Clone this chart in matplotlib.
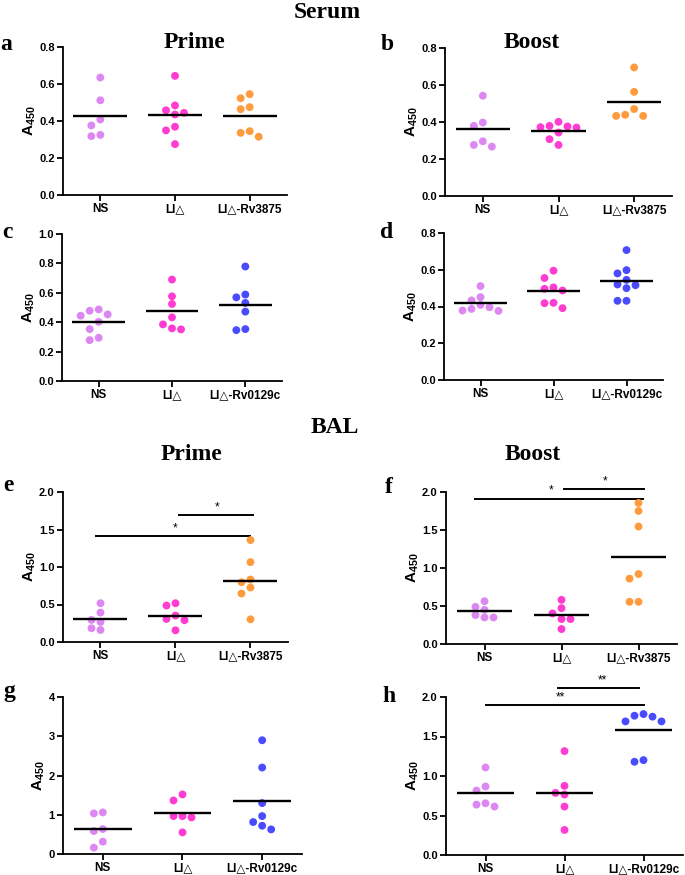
import numpy as np
import matplotlib
matplotlib.use("Agg")
import matplotlib.pyplot as plt
from matplotlib.ticker import FormatStrFormatter

plt.rcParams['font.family'] = ['Liberation Sans', 'DejaVu Sans']
plt.rcParams['font.weight'] = 'bold'
plt.rcParams['mathtext.fontset'] = 'custom'
plt.rcParams['mathtext.bf'] = 'Liberation Sans:bold'
plt.rcParams['mathtext.rm'] = 'Liberation Sans:bold'

# group names
groups_3875 = ['NS', 'LI\u25b3', 'LI\u25b3-Rv3875']
groups_0129 = ['NS', 'LI\u25b3', 'LI\u25b3-Rv0129c']

# serum, prime (a) and boost (b), Rv3875
a_ns = [0.635, 0.512, 0.408, 0.376, 0.318, 0.325]
a_li = [0.644, 0.458, 0.435, 0.444, 0.484, 0.369, 0.349, 0.275]
a_rv = [0.545, 0.523, 0.475, 0.464, 0.345, 0.336, 0.315]
b_ns = [0.542, 0.397, 0.379, 0.296, 0.267, 0.276]
b_li = [0.401, 0.376, 0.370, 0.372, 0.379, 0.343, 0.307, 0.276]
b_rv = [0.695, 0.563, 0.470, 0.439, 0.433, 0.433]

# serum, Rv0129c (c prime, d boost)
c_ns = [0.487, 0.478, 0.453, 0.444, 0.403, 0.353, 0.294, 0.278]
c_li = [0.690, 0.576, 0.524, 0.433, 0.385, 0.351, 0.358]
c_rv = [0.779, 0.588, 0.569, 0.531, 0.472, 0.346, 0.353]
d_ns = [0.511, 0.451, 0.433, 0.409, 0.387, 0.376, 0.378, 0.396]
d_li = [0.595, 0.555, 0.496, 0.487, 0.504, 0.420, 0.418, 0.391]
d_rv = [0.707, 0.598, 0.580, 0.545, 0.516, 0.500, 0.520, 0.431, 0.431]

# BAL
e_ns = [0.517, 0.392, 0.267, 0.294, 0.160, 0.183]
e_li = [0.517, 0.486, 0.352, 0.307, 0.290, 0.156]
e_rv = [1.359, 1.065, 0.833, 0.797, 0.726, 0.646, 0.303]
f_ns = [0.563, 0.489, 0.450, 0.380, 0.349, 0.349]
f_li = [0.581, 0.472, 0.402, 0.328, 0.328, 0.197]
f_rv = [1.856, 1.751, 1.546, 0.921, 0.860, 0.555, 0.555]
g_ns = [1.059, 1.034, 0.636, 0.585, 0.314, 0.161]
g_li = [1.517, 1.364, 0.966, 0.932, 0.966, 0.551]
g_rv = [2.898, 2.203, 1.297, 0.966, 0.814, 0.720, 0.627]
h_ns = [1.108, 0.867, 0.816, 0.655, 0.613, 0.638]
h_li = [1.315, 0.875, 0.765, 0.786, 0.613, 0.317]
h_rv = [1.763, 1.691, 1.691, 1.751, 1.784, 1.180, 1.201]

# significance bars: (x from, x to, height, stars, star x)
e_sig = [(-0.06, 2.0, 1.408, '*', 1.0), (1.05, 2.04, 1.688, '*', 1.55)]
f_sig = [(-0.12, 2.06, 1.913, '*', 0.87), (1.03, 2.07, 2.04, '*', 1.57)]
h_sig = [(0.0, 2.0, 1.894, '**', 0.95), (0.92, 1.94, 2.114, '**', 1.48)]

c_ns_col = '#DD88F2'
c_li_col = '#FF3CD2'
c_3875_col = '#FF9B3C'
c_0129_col = '#4A4AFF'

W, H = 685, 875
fig = plt.figure(figsize=(6.85, 8.75), dpi=100, facecolor='w')


def swarm(vals, center, px_x, px_y, step=9.0, thr=7.5):
    order = np.argsort(vals)[::-1]
    xs = np.zeros(len(vals))
    placed = []
    cand = [0]
    for k in range(1, 8):
        cand += [-k, k]
    for i in order:
        for k in cand:
            ok = True
            for (kk, v) in placed:
                if kk == k and abs(v - vals[i]) * px_y < thr:
                    ok = False
                    break
            if ok:
                placed.append((k, vals[i]))
                xs[i] = center + k * step / px_x
                break
    return xs


def panel(box, data, names, cols, ytop, ystep, fmt, label, lab_xy, sig=None):
    l, t, r, b = box
    ax = fig.add_axes([l / W, 1 - b / H, (r - l) / W, (b - t) / H])
    ax.set_xlim(-0.5, 2.5)
    ax.set_ylim(0, ytop)
    px_x = (r - l) / 3.0
    px_y = (b - t) / ytop
    for i, (vals, col) in enumerate(zip(data, cols)):
        vals = np.array(vals)
        xs = swarm(vals, i, px_x, px_y)
        ax.scatter(xs, vals, s=32, color=col, edgecolors='none', zorder=3, clip_on=False)
        ax.hlines(np.mean(vals), i - 0.36, i + 0.36, color='k', lw=1.7, zorder=4)
    if sig:
        for x0, x1, y, st, sx in sig:
            ax.plot([x0, x1], [y, y], color='k', lw=1.4, clip_on=False)
            ax.text(sx, y + ytop * 0.012, st, ha='center', va='bottom', fontsize=8.5,
                    fontweight='normal')
    ax.set_xticks(range(3))
    ax.set_xticklabels(names, fontsize=8.5, fontweight='bold')
    ax.set_yticks(np.arange(0, ytop + 1e-9, ystep))
    ax.yaxis.set_major_formatter(FormatStrFormatter(fmt))
    for tl in ax.get_yticklabels():
        tl.set_fontsize(8)
        tl.set_fontweight('bold')
    ax.spines['top'].set_visible(False)
    ax.spines['right'].set_visible(False)
    ax.spines['left'].set_linewidth(1.3)
    ax.spines['bottom'].set_linewidth(1.3)
    ax.tick_params(direction='out', length=4, width=1.3, pad=2)
    ax.set_ylabel(r'$\mathbf{A_{450}}$', fontsize=11, labelpad=1)
    fig.text(lab_xy[0] / W, 1 - lab_xy[1] / H, label, fontsize=17, fontweight='bold',
             family='Liberation Serif', ha='center', va='center')
    return ax


top_cols = [c_ns_col, c_li_col, c_3875_col]
bot_cols = [c_ns_col, c_li_col, c_0129_col]

panel((63, 47, 287, 195), [a_ns, a_li, a_rv], groups_3875, top_cols, 0.8, 0.2, '%.1f', 'a', (6, 44))
panel((445, 48, 672, 196), [b_ns, b_li, b_rv], groups_3875, top_cols, 0.8, 0.2, '%.1f', 'b', (387, 45))
panel((62, 234, 282, 381), [c_ns, c_li, c_rv], groups_0129, bot_cols, 1.0, 0.2, '%.1f', 'c', (7, 233))
panel((444, 233, 663, 380), [d_ns, d_li, d_rv], groups_0129, bot_cols, 0.8, 0.2, '%.1f', 'd', (387, 232))
panel((63, 492, 288, 642), [e_ns, e_li, e_rv], groups_3875, top_cols, 2.0, 0.5, '%.1f', 'e', (8, 486), e_sig)
panel((446, 492, 677, 644), [f_ns, f_li, f_rv], groups_3875, top_cols, 2.0, 0.5, '%.1f', 'f', (389, 487), f_sig)
panel((63, 697, 302, 854), [g_ns, g_li, g_rv], groups_0129, bot_cols, 4.0, 1.0, '%d', 'g', (9, 692))
panel((446, 697, 683, 855), [h_ns, h_li, h_rv], groups_0129, bot_cols, 2.0, 0.5, '%.1f', 'h', (389, 697), h_sig)

heads = [('Serum', 327, 12), ('Prime', 194, 42), ('Boost', 532, 43),
         ('BAL', 335, 428), ('Prime', 191, 455), ('Boost', 533, 454)]
for txt, x, y in heads:
    fig.text(x / W, 1 - y / H, txt, fontsize=17, fontweight='bold',
             family='Liberation Serif', ha='center', va='center')

plt.savefig('out.png', dpi=100, facecolor='w')
plt.close()
